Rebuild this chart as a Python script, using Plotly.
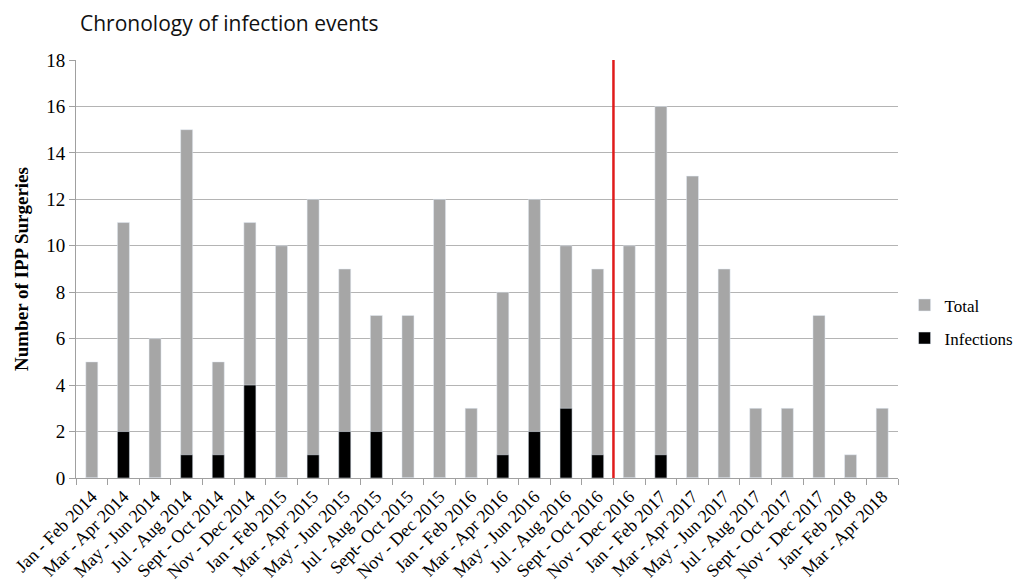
import plotly.graph_objects as go

categories = ["Jan - Feb 2014", "Mar - Apr 2014", "May - Jun 2014", "Jul - Aug 2014",
              "Sept - Oct 2014", "Nov - Dec 2014", "Jan - Feb 2015", "Mar - Apr 2015",
              "May - Jun 2015", "Jul - Aug 2015", "Sept- Oct 2015", "Nov - Dec 2015",
              "Jan - Feb 2016", "Mar - Apr 2016", "May - Jun 2016", "Jul - Aug 2016",
              "Sept - Oct 2016", "Nov - Dec 2016", "Jan - Feb 2017", "Mar - Apr 2017",
              "May - Jun 2017", "Jul - Aug 2017", "Sept - Oct 2017", "Nov - Dec 2017",
              "Jan- Feb 2018", "Mar - Apr 2018"]
total = [5, 11, 6, 15, 5, 11, 10, 12, 9, 7, 7, 12, 3, 8, 12, 10, 9, 10, 16, 13, 9, 3, 3, 7, 1, 3]
infections = [0, 2, 0, 1, 1, 4, 0, 1, 2, 2, 0, 0, 0, 1, 2, 3, 1, 0, 1, 0, 0, 0, 0, 0, 0, 0]
divider_position = 16.5

serif = "Liberation Serif"

fig = go.Figure()
fig.add_trace(go.Bar(x=categories, y=total, name="Total", marker_color="#a6a6a6",
                     legendgroup="a"))
fig.add_trace(go.Bar(x=categories, y=infections, name="Infections", marker_color="#000000",
                     legendgroup="b"))

fig.add_shape(type="line", xref="x", yref="y", x0=divider_position, x1=divider_position,
              y0=-0.3, y1=18, line=dict(color="#e01b1b", width=2.5), layer="above")

# page body has an 8px margin, so offsets compensate
fig.update_layout(
    width=1028, height=588,
    font=dict(family=serif, color="#000"),
    margin=dict(l=68, r=138, t=52, b=118, autoexpand=False),
    plot_bgcolor="white", paper_bgcolor="white",
    barmode="overlay", bargap=0.62,
    title=dict(text="Chronology of infection events", x=72/1028, xanchor="left",
               y=1-16/588, yanchor="middle",
               font=dict(family="Open Sans", size=21, color="#111")),
    legend=dict(x=1.008, y=0.456, xanchor="left", yanchor="top",
                font=dict(family=serif, size=17, color="#000"),
                traceorder="grouped", tracegroupgap=8,
                itemwidth=30, bgcolor="rgba(0,0,0,0)"),
    showlegend=True,
)
fig.update_yaxes(range=[0, 18], dtick=2, showgrid=True, gridcolor="#b4b4b4", gridwidth=1,
                 showline=True, linecolor="#a0a0a0", linewidth=1,
                 ticks="outside", ticklen=6, tickcolor="#a0a0a0",
                 tickfont=dict(family=serif, size=19, color="#000"),
                 title=dict(text="Number of IPP Surgeries", standoff=12,
                            font=dict(family=serif, size=19, color="#000", weight="bold")),
                 zeroline=False)
fig.update_xaxes(showline=True, linecolor="#a0a0a0", linewidth=1,
                 ticks="outside", ticklen=6, tickcolor="#a0a0a0", tickson="boundaries",
                 tickangle=-45, tickfont=dict(family=serif, size=18, color="#000"),
                 showgrid=False)

fig.write_html("out.html")
